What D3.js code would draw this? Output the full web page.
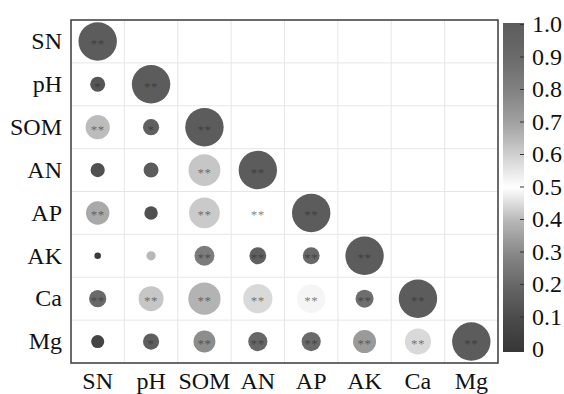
<!DOCTYPE html>
<html>
<head>
<meta charset="utf-8">
<script src="https://cdn.jsdelivr.net/npm/d3@7"></script>
<style>
  html, body { margin: 0; padding: 0; background: #fff; }
  svg { display: block; }
</style>
</head>
<body>
<svg id="chart" width="564" height="394"></svg>
<script>
// ---------- data ----------
const variables = ["SN", "pH", "SOM", "AN", "AP", "AK", "Ca", "Mg"];

// colour value of each lower-triangle cell (on the 0–1 colour bar)
const colorValues = [
  [1],
  [0.14, 1],
  [0.64, 0.18, 1],
  [0.12, 0.16, 0.62, 1],
  [0.68, 0.12, 0.61, 0.50, 1],
  [0.02, 0.40, 0.82, 0.97, 0.92, 1],
  [0.90, 0.62, 0.66, 0.58, 0.52, 0.88, 1],
  [0.07, 0.17, 0.76, 0.92, 0.90, 0.72, 0.58, 1]
];

// relative circle size of each lower-triangle cell
const sizeValues = [
  [1],
  [0.39, 1],
  [0.63, 0.42, 1],
  [0.37, 0.39, 0.83, 1],
  [0.61, 0.35, 0.80, 0.70, 1],
  [0.17, 0.24, 0.52, 0.44, 0.44, 1],
  [0.45, 0.65, 0.84, 0.76, 0.74, 0.47, 1],
  [0.34, 0.42, 0.57, 0.50, 0.50, 0.60, 0.68, 1]
];

// significance marks
const stars = [
  ["**"],
  ["*", "**"],
  ["**", "*", "**"],
  ["", "", "**", "**"],
  ["**", "", "**", "**", "**"],
  ["", "", "**", "**", "**", "**"],
  ["**", "**", "**", "**", "**", "**", "**"],
  ["", "*", "**", "**", "**", "**", "**", "**"]
];

const legendTicks = [0, 0.1, 0.2, 0.3, 0.4, 0.5, 0.6, 0.7, 0.8, 0.9, 1.0];
const legendTickLabels = ["0", "0.1", "0.2", "0.3", "0.4", "0.5", "0.6", "0.7", "0.8", "0.9", "1.0"];

// colour bar stops (value -> grey)
const colorStops = [0, 0.1, 0.2, 0.3, 0.4, 0.5, 0.6, 0.7, 0.8, 0.9, 1];
const colorGreys = ["#363636", "#4a4a4a", "#666666", "#888888", "#b8b8b8", "#ffffff",
                    "#cfcfcf", "#a0a0a0", "#808080", "#6a6a6a", "#5c5c5c"];

// ---------- drawing ----------
const svg = d3.select("#chart");
const font = "'Liberation Serif', 'Times New Roman', serif";
const labelSize = 24;

const plot = { left: 71, right: 498, top: 20, bottom: 363 };
const x = d3.scaleBand().domain(variables).range([plot.left, plot.right]);
const y = d3.scaleBand().domain(variables).range([plot.top, plot.bottom]);
const color = d3.scaleLinear().domain(colorStops).range(colorGreys);
const radius = d3.scaleLinear().domain([0, 1]).range([0, 19.2]);

// grid
const grid = svg.append("g").attr("stroke", "#e6e6e6").attr("stroke-width", 1);
variables.slice(1).forEach(v => {
  grid.append("line").attr("x1", x(v)).attr("x2", x(v))
    .attr("y1", plot.top).attr("y2", plot.bottom);
  grid.append("line").attr("y1", y(v)).attr("y2", y(v))
    .attr("x1", plot.left).attr("x2", plot.right);
});

// cells
const cells = [];
colorValues.forEach((row, i) => {
  row.forEach((c, j) => {
    cells.push({ rowVar: variables[i], colVar: variables[j], c, s: sizeValues[i][j], star: stars[i][j] });
  });
});

const cg = svg.append("g");
cg.selectAll("circle").data(cells).join("circle")
  .attr("cx", d => x(d.colVar) + x.bandwidth() / 2)
  .attr("cy", d => y(d.rowVar) + y.bandwidth() / 2)
  .attr("r", d => radius(d.s))
  .attr("fill", d => color(d.c));

cg.selectAll("text").data(cells.filter(d => d.star)).join("text")
  .attr("x", d => x(d.colVar) + x.bandwidth() / 2)
  .attr("y", d => y(d.rowVar) + y.bandwidth() / 2 + 6.5)
  .attr("text-anchor", "middle")
  .attr("font-family", font)
  .attr("font-size", 13)
  .attr("letter-spacing", 0.5)
  .attr("fill", "#2a2a2a")
  .attr("fill-opacity", 0.6)
  .text(d => d.star);

// border
svg.append("rect")
  .attr("x", plot.left).attr("y", plot.top)
  .attr("width", plot.right - plot.left).attr("height", plot.bottom - plot.top)
  .attr("fill", "none").attr("stroke", "#3a3a3a").attr("stroke-width", 1.5);

// axes
const yAxis = svg.append("g").attr("transform", `translate(${plot.left},0)`)
  .call(d3.axisLeft(y).tickSize(0).tickPadding(9));
const xAxis = svg.append("g").attr("transform", `translate(0,${plot.bottom})`)
  .call(d3.axisBottom(x).tickSize(0).tickPadding(9));
[xAxis, yAxis].forEach(a => {
  a.select(".domain").remove();
  a.selectAll("text").attr("font-family", font).attr("font-size", labelSize).attr("fill", "#111");
});

// colour bar
const bar = { x: 503, w: 21, top: 23, bottom: 352 };
const ly = d3.scaleLinear().domain([0, 1]).range([349, 24]);
const defs = svg.append("defs");
const grad = defs.append("linearGradient").attr("id", "cbar")
  .attr("x1", 0).attr("y1", 1).attr("x2", 0).attr("y2", 0);
d3.range(0, 1.0001, 0.02).forEach(t => {
  grad.append("stop").attr("offset", t).attr("stop-color", color(t));
});
svg.append("rect")
  .attr("x", bar.x).attr("y", bar.top)
  .attr("width", bar.w).attr("height", bar.bottom - bar.top)
  .attr("fill", "url(#cbar)");

const lAxis = svg.append("g").attr("transform", `translate(${bar.x + bar.w},0)`)
  .call(d3.axisRight(ly).tickValues(legendTicks)
    .tickFormat((d, i) => legendTickLabels[i])
    .tickSizeInner(-4).tickSizeOuter(0).tickPadding(8));
lAxis.select(".domain").remove();
lAxis.selectAll("line").attr("stroke", "#333");
lAxis.selectAll("text").attr("font-family", font).attr("font-size", labelSize).attr("fill", "#111");
</script>
</body>
</html>
